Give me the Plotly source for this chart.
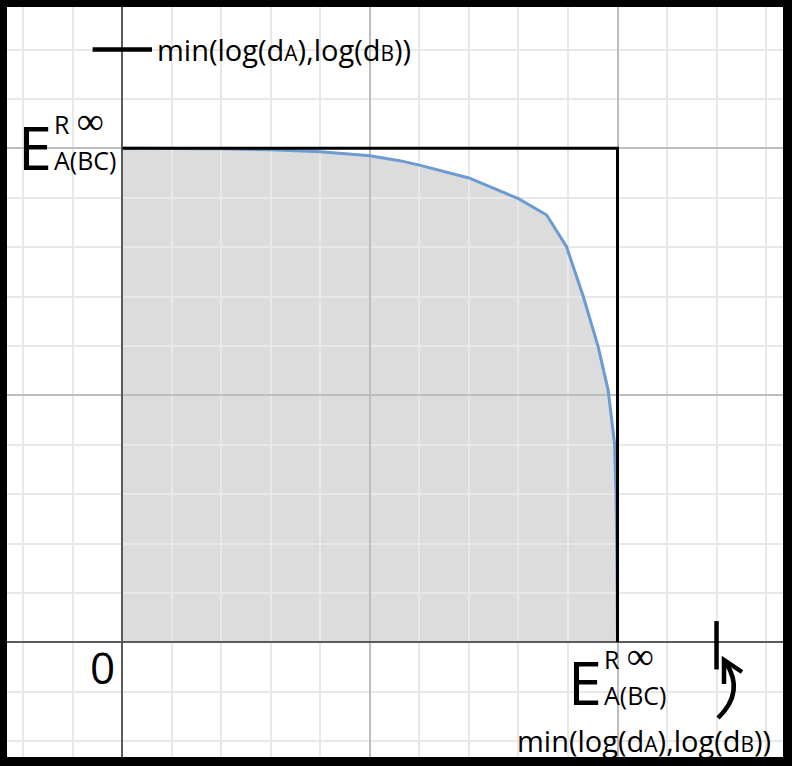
import plotly.graph_objects as go

# ---- data ----
curve_x = [0.0, 0.1, 0.2, 0.3, 0.4, 0.5, 0.56, 0.6, 0.7, 0.8, 0.857,
           0.897, 0.931, 0.961, 0.981, 0.994, 0.997, 0.999, 1.0]
curve_y = [1.0, 1.0, 0.999, 0.997, 0.993, 0.985, 0.975, 0.966, 0.940, 0.898, 0.865,
           0.801, 0.700, 0.598, 0.511, 0.403, 0.302, 0.15, 0.0]
box_x = [0.0, 1.0, 1.0]
box_y = [1.0, 1.0, 0.0]
min_log = 1.2          # position of min(log dA, log dB) on each axis
legend_text = ("min(log(d<span style='font-size:21px'>A</span>),"
               "log(d<span style='font-size:21px'>B</span>))")
e_sup_sub = ("<span style='font-size:25px'>R</span> "
             "<span style='font-family:DejaVu Sans;font-size:38px;font-weight:200'>∞</span>"
             "<br><span style='font-size:25px'>A(BC)</span>")

# ---- screen-pixel helpers (for text placement only) ----
X0, SX = 122.3, 495.2
Y0, SY = 642.3, 494.0
def px2x(p):
    return (p - X0) / SX
def px2y(p):
    return (Y0 - p) / SY

FONT = "Open Sans"
fig = go.Figure()

# fill under curve (shape below gridlines)
path = "M 0,0 " + " ".join(f"L {x},{y}" for x, y in zip(curve_x, curve_y)) + " Z"
fig.add_shape(type="path", path=path, xref="x", yref="y",
              fillcolor="#dcdcdc", line=dict(width=0), layer="below")

fig.add_trace(go.Scatter(x=curve_x, y=curve_y, mode="lines",
                         line=dict(color="#6b9bd1", width=3), hoverinfo="skip"))
fig.add_trace(go.Scatter(x=box_x, y=box_y, mode="lines",
                         line=dict(color="black", width=3), hoverinfo="skip"))
# markers at min(log dA, log dB)
fig.add_trace(go.Scatter(x=[-0.06, 0.06], y=[min_log, min_log], mode="lines",
                         line=dict(color="black", width=4.5), hoverinfo="skip"))
fig.add_trace(go.Scatter(x=[min_log, min_log], y=[-0.055, 0.043], mode="lines",
                         line=dict(color="black", width=4.5), hoverinfo="skip"))

ann = []
def add_text(txt, xp, yp, size, xanchor="left", yanchor="middle"):
    ann.append(dict(text=txt, x=px2x(xp), y=px2y(yp), xref="x", yref="y",
                    showarrow=False, xanchor=xanchor, yanchor=yanchor, align="left",
                    font=dict(family=FONT, size=size, color="black")))

def e_label(xo, yo):
    # xo: left of "E", yo: top of "E"
    add_text("E", xo + 29, yo + 18, 61, xanchor="right")
    add_text(e_sup_sub, xo + 27, yo + 10, 28)

e_label(25, 128)
e_label(575, 663)
add_text("0", 117, 667, 44, xanchor="right")
add_text(legend_text, 155, 49, 29)
add_text(legend_text, 515, 740, 29)
fig.update_layout(annotations=ann)

# curved arrow
ax = [718, 745, 726]
ay = [718, 692, 663]
arrow_path = (f"M {px2x(ax[0])},{px2y(ay[0])} Q {px2x(ax[1])},{px2y(ay[1])} "
              f"{px2x(ax[2])},{px2y(ay[2])}")
fig.add_shape(type="path", path=arrow_path, xref="x", yref="y",
              line=dict(color="black", width=4.5))
head_path = (f"M {px2x(724)},{px2y(684)} L {px2x(724)},{px2y(660)} "
             f"L {px2x(742)},{px2y(672)}")
fig.add_shape(type="path", path=head_path, xref="x", yref="y",
              line=dict(color="black", width=4.5))

axis_common = dict(
    showticklabels=False, ticks="", showline=False,
    dtick=0.5, tick0=0, gridcolor="#bdbdbd", gridwidth=1.5,
    zeroline=True, zerolinecolor="#5a5a5a", zerolinewidth=2,
    minor=dict(dtick=0.1, tick0=0, showgrid=True, gridcolor="#e8e8e8", gridwidth=2),
    fixedrange=True,
)
fig.update_xaxes(range=[px2x(7), px2x(783)], **axis_common)
fig.update_yaxes(range=[px2y(757), px2y(7)], **axis_common)

fig.update_layout(
    width=792, height=766,
    margin=dict(l=7, r=9, t=7, b=9),
    paper_bgcolor="black", plot_bgcolor="white",
    showlegend=False,
)
fig.write_html("out.html", config={"displayModeBar": False},
               post_script="document.body.style.margin='0';document.body.style.overflow='hidden';")
